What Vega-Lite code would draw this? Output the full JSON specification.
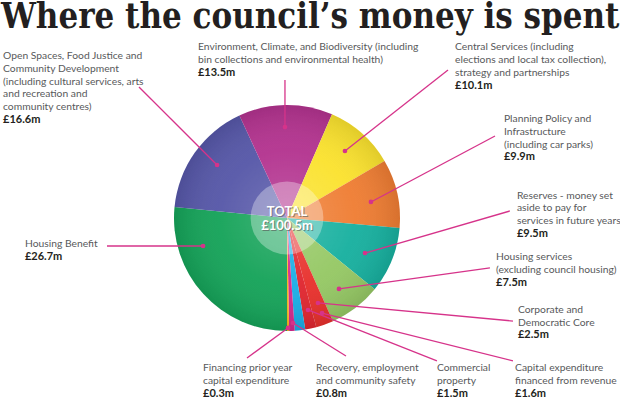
{
  "$schema": "https://vega.github.io/schema/vega-lite/v6.json",
  "width": 574,
  "height": 360,
  "padding": 0,
  "autosize": {"type": "pad"},
  "background": "white",
  "title": {
    "text": "Where the council’s money is spent",
    "anchor": "start",
    "font": "DejaVu Serif Condensed, DejaVu Serif",
    "fontSize": 34.5,
    "fontWeight": "bold",
    "color": "#231f20",
    "offset": 2.5,
    "dx": 1
  },
  "config": {"view": {"stroke": null}},
  "datasets": {
    "slices": [
      {"ord": 1, "category": "Housing Benefit", "value": 26.7, "amount": "£26.7m", "desc": "Housing Benefit", "lx": -231.9, "ty": -25.9, "ly": -37.2, "ox": -159.3, "oy": -24.8, "px": -74.3, "py": -24.8},
      {"ord": 2, "category": "Open Spaces, Food Justice and Community Development", "value": 16.6, "amount": "£16.6m", "desc": "Open Spaces, Food Justice and\nCommunity Development\n(including cultural services, arts\nand recreation and\ncommunity centres)", "lx": -251.3, "ty": 140.7, "ly": 84.1, "ox": -131.0, "oy": 115.9, "px": -61.9, "py": 46.9},
      {"ord": 3, "category": "Environment, Climate, and Biodiversity", "value": 13.5, "amount": "£13.5m", "desc": "Environment, Climate, and Biodiversity (including\nbin collections and environmental health)", "lx": -78.8, "ty": 148.4, "ly": 125.7, "ox": -1.8, "oy": 122.1, "px": -1.8, "py": 80.5},
      {"ord": 4, "category": "Central Services", "value": 10.1, "amount": "£10.1m", "desc": "Central Services (including\nelections and local tax collection),\nstrategy and partnerships", "lx": 148.7, "ty": 148.6, "ly": 114.6, "ox": 142.5, "oy": 131.0, "px": 51.3, "py": 59.3},
      {"ord": 5, "category": "Planning Policy and Infrastructure", "value": 9.9, "amount": "£9.9m", "desc": "Planning Policy and\nInfrastructure\n(including car parks)", "lx": 192.0, "ty": 84.9, "ly": 50.9, "ox": 184.1, "oy": 72.6, "px": 74.3, "py": 14.2},
      {"ord": 6, "category": "Reserves", "value": 9.5, "amount": "£9.5m", "desc": "Reserves - money set\naside to pay for\nservices in future years", "lx": 203.5, "ty": 17.2, "ly": -16.8, "ox": 197.3, "oy": 6.2, "px": 69.0, "py": -31.0},
      {"ord": 7, "category": "Housing services", "value": 7.5, "amount": "£7.5m", "desc": "Housing services\n(excluding council housing)", "lx": 185.0, "ty": -37.5, "ly": -60.2, "ox": 179.6, "oy": -44.2, "px": 46.0, "py": -62.8},
      {"ord": 8, "category": "Corporate and Democratic Core", "value": 2.5, "amount": "£2.5m", "desc": "Corporate and\nDemocratic Core", "lx": 204.4, "ty": -83.9, "ly": -106.6, "ox": 200.0, "oy": -91.2, "px": 27.4, "py": -75.2},
      {"ord": 9, "category": "Capital expenditure financed from revenue", "value": 1.6, "amount": "£1.6m", "desc": "Capital expenditure\nfinanced from revenue", "lx": 201.8, "ty": -135.7, "ly": -158.4, "ox": 200.0, "oy": -126.5, "px": 31.0, "py": -84.1},
      {"ord": 10, "category": "Commercial property", "value": 1.5, "amount": "£1.5m", "desc": "Commercial\nproperty", "lx": 132.7, "ty": -135.7, "ly": -158.4, "ox": 132.7, "oy": -126.5, "px": 18.6, "py": -81.4},
      {"ord": 11, "category": "Recovery, employment and community safety", "value": 0.8, "amount": "£0.8m", "desc": "Recovery, employment\nand community safety", "lx": 25.7, "ty": -135.7, "ly": -158.4, "ox": 52.2, "oy": -122.1, "px": 5.3, "py": -92.9},
      {"ord": 12, "category": "Financing prior year capital expenditure", "value": 0.3, "amount": "£0.3m", "desc": "Financing prior year\ncapital expenditure", "lx": -74.3, "ty": -135.7, "ly": -158.4, "ox": -35.4, "oy": -123.9, "px": 0.9, "py": -97.3}
    ],
    "total": [{"label": "TOTAL\n£100.5m", "cx": 0, "cy": 0}]
  },
  "layer": [
    {
      "data": {"name": "slices"},
      "mark": {"type": "arc", "outerRadius": 113},
      "encoding": {
        "theta": {"field": "value", "type": "quantitative", "stack": true, "scale": {"range": [3.14159265, 9.42477796]}},
        "color": {
          "field": "category", "type": "nominal", "legend": null,
          "scale": {
            "domain": ["Housing Benefit", "Open Spaces, Food Justice and Community Development", "Environment, Climate, and Biodiversity", "Central Services", "Planning Policy and Infrastructure", "Reserves", "Housing services", "Corporate and Democratic Core", "Capital expenditure financed from revenue", "Commercial property", "Recovery, employment and community safety", "Financing prior year capital expenditure"],
            "range": ["#15a359", "#5657a8", "#b3338f", "#fbe22e", "#ef7d33", "#17b09f", "#95c864", "#e8302c", "#e0262f", "#1aadE6", "#d5288d", "#f7b41a"]
          }
        },
        "order": {"field": "ord", "type": "quantitative"}
      }
    },
    {
      "data": {"name": "total"},
      "mark": {
        "type": "arc", "outerRadius": 113,
        "fill": {"gradient": "radial", "x1": 0.5, "y1": 0.5, "r1": 0, "x2": 0.5, "y2": 0.5, "r2": 0.5,
          "stops": [
            {"offset": 0, "color": "rgba(255,255,255,0.18)"},
            {"offset": 0.6, "color": "rgba(255,255,255,0.04)"},
            {"offset": 1, "color": "rgba(0,0,0,0.10)"}
          ]}
      },
      "encoding": {}
    },
    {
      "data": {"name": "total"},
      "mark": {"type": "circle", "size": 5300, "color": "white", "opacity": 0.32},
      "encoding": {
        "x": {"field": "cx", "type": "quantitative", "scale": {"domain": [-254, 254], "nice": false, "zero": false}, "axis": null},
        "y": {"field": "cy", "type": "quantitative", "scale": {"domain": [-159.3, 159.3], "nice": false, "zero": false}, "axis": null}
      }
    },
    {
      "data": {"name": "slices"},
      "mark": {"type": "rule", "color": "#d6338a", "strokeWidth": 1.3},
      "encoding": {
        "x": {"field": "ox", "type": "quantitative", "scale": {"domain": [-254, 254], "nice": false, "zero": false}, "axis": null},
        "y": {"field": "oy", "type": "quantitative", "scale": {"domain": [-159.3, 159.3], "nice": false, "zero": false}, "axis": null},
        "x2": {"field": "px"},
        "y2": {"field": "py"}
      }
    },
    {
      "data": {"name": "slices"},
      "mark": {"type": "circle", "size": 22, "color": "#d6338a", "opacity": 1},
      "encoding": {
        "x": {"field": "px", "type": "quantitative", "scale": {"domain": [-254, 254], "nice": false, "zero": false}, "axis": null},
        "y": {"field": "py", "type": "quantitative", "scale": {"domain": [-159.3, 159.3], "nice": false, "zero": false}, "axis": null}
      }
    },
    {
      "data": {"name": "slices"},
      "mark": {"type": "text", "lineBreak": "\n", "align": "left", "baseline": "bottom", "dy": 2, "lineHeight": 12.8, "font": "Lato", "fontSize": 10.3, "color": "#58595b"},
      "encoding": {
        "x": {"field": "lx", "type": "quantitative", "scale": {"domain": [-254, 254], "nice": false, "zero": false}, "axis": null},
        "y": {"field": "ty", "type": "quantitative", "scale": {"domain": [-159.3, 159.3], "nice": false, "zero": false}, "axis": null},
        "text": {"field": "desc", "type": "nominal"}
      }
    },
    {
      "data": {"name": "slices"},
      "mark": {"type": "text", "align": "left", "baseline": "bottom", "dy": 2, "font": "Lato", "fontSize": 11, "fontWeight": "bold", "color": "#231f20"},
      "encoding": {
        "x": {"field": "lx", "type": "quantitative", "scale": {"domain": [-254, 254], "nice": false, "zero": false}, "axis": null},
        "y": {"field": "ly", "type": "quantitative", "scale": {"domain": [-159.3, 159.3], "nice": false, "zero": false}, "axis": null},
        "text": {"field": "amount", "type": "nominal"}
      }
    },
    {
      "data": {"name": "total"},
      "mark": {"type": "text", "lineBreak": "\n", "align": "center", "baseline": "middle", "lineHeight": 14, "dx": 1, "dy": -5, "font": "Lato", "fontSize": 13, "fontWeight": "bold", "color": "#555555", "opacity": 0.6},
      "encoding": {
        "x": {"field": "cx", "type": "quantitative", "scale": {"domain": [-254, 254], "nice": false, "zero": false}, "axis": null},
        "y": {"field": "cy", "type": "quantitative", "scale": {"domain": [-159.3, 159.3], "nice": false, "zero": false}, "axis": null},
        "text": {"field": "label", "type": "nominal"}
      }
    },
    {
      "data": {"name": "total"},
      "mark": {"type": "text", "lineBreak": "\n", "align": "center", "baseline": "middle", "lineHeight": 14, "dy": -6, "font": "Lato", "fontSize": 13, "fontWeight": "bold", "color": "white"},
      "encoding": {
        "x": {"field": "cx", "type": "quantitative", "scale": {"domain": [-254, 254], "nice": false, "zero": false}, "axis": null},
        "y": {"field": "cy", "type": "quantitative", "scale": {"domain": [-159.3, 159.3], "nice": false, "zero": false}, "axis": null},
        "text": {"field": "label", "type": "nominal"}
      }
    }
  ]
}
